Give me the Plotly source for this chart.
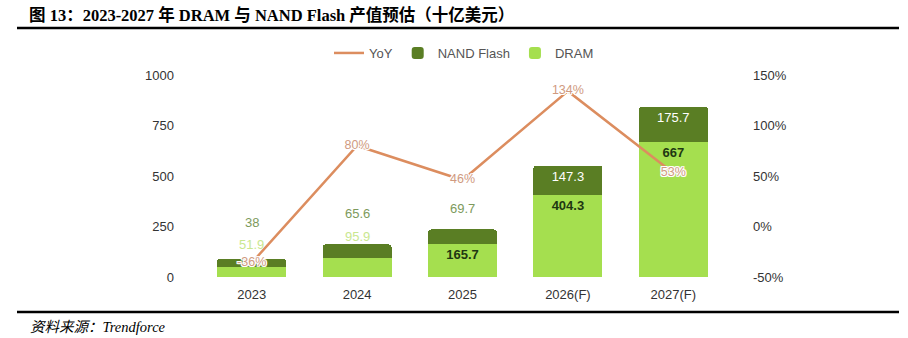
import plotly.graph_objects as go

# Market size forecast, billion USD
years = ["2023", "2024", "2025", "2026(F)", "2027(F)"]
dram = [51.9, 95.9, 165.7, 404.3, 667]
nand = [38, 65.6, 69.7, 147.3, 175.7]
yoy = [-36, 80, 46, 134, 53]  # %

left_ticks = [0, 250, 500, 750, 1000]
right_ticks = [-50, 0, 50, 100, 150]
right_tick_text = ["-50%", "0%", "50%", "100%", "150%"]

W, H = 908, 338
L, R, T, B = 199, 182, 75, 61
PW, PH = W - L - R, H - T - B


def px(x):
    return (x - L) / PW


def py(y):
    return 1 - (y - T) / PH


C_DRAM = "#a5df4f"
C_NAND = "#5a7e24"
C_YOY = "#dc8d5f"
FONT = "Liberation Sans, Arial, sans-serif"
SERIF = "Liberation Serif, Noto Sans CJK SC, serif"
HALO = ("1px 1px 0 #fff, -1px -1px 0 #fff, 1px -1px 0 #fff, -1px 1px 0 #fff, "
        "0 1px 0 #fff, 0 -1px 0 #fff, 1px 0 0 #fff, -1px 0 0 #fff")

# which segments carry their value inside the bar; the rest are labelled above the stack
dram_inside = [False, False, True, True, True]
nand_inside = [False, False, False, True, True]

fig = go.Figure()

fig.add_trace(go.Scatter(
    x=years, y=yoy, name="YoY", yaxis="y2", mode="lines+text", legendrank=1,
    line=dict(color=C_YOY, width=2.5),
    text=[f"{v}%" for v in yoy], textposition="middle center",
    textfont=dict(size=12.5, color="#d09a80", family=FONT, shadow=HALO),
    cliponaxis=False,
))
fig.add_trace(go.Bar(
    x=years, y=dram, name="DRAM", legendrank=3,
    marker=dict(color=C_DRAM, line=dict(width=0)),
    text=[f"<b>{v:g}</b>" if s else "" for v, s in zip(dram, dram_inside)],
    textposition="inside", insidetextanchor="end",
    textfont=dict(size=13, color="#1f3812", family=FONT),
))
fig.add_trace(go.Bar(
    x=years, y=nand, name="NAND Flash", legendrank=2,
    marker=dict(color=C_NAND, line=dict(width=0)),
    text=[f"{v:g}" if s else "" for v, s in zip(nand, nand_inside)],
    textposition="inside", insidetextanchor="end",
    textfont=dict(size=13, color="#ffffff", family=FONT),
))

annotations = []
# labels above the short stacks (pixel offsets from the stack top)
nand_shift = [36, 31, 21]
dram_shift = [14, 8]
for i in range(len(years)):
    total = dram[i] + nand[i]
    if not nand_inside[i]:
        annotations.append(dict(x=i, y=total, xref="x", yref="y", text=f"{nand[i]:g}",
                                showarrow=False, yshift=nand_shift[i], yanchor="middle",
                                font=dict(size=13, color="#7d9a5c", family=FONT)))
    if not dram_inside[i]:
        annotations.append(dict(x=i, y=total, xref="x", yref="y", text=f"{dram[i]:g}",
                                showarrow=False, yshift=dram_shift[i], yanchor="middle",
                                font=dict(size=13, color="#c9e78f", family=FONT)))

annotations.append(dict(
    x=px(27), y=py(15), xref="paper", yref="paper", xanchor="left", yanchor="middle",
    text="<b>图 13：2023-2027 年 DRAM 与 NAND Flash 产值预估（十亿美元）</b>",
    showarrow=False, font=dict(size=16.5, color="#000", family=SERIF),
))
annotations.append(dict(
    x=px(28), y=py(327), xref="paper", yref="paper", xanchor="left", yanchor="middle",
    text="<i>资料来源：Trendforce</i>", showarrow=False,
    font=dict(size=14.5, color="#000", family=SERIF),
))

shapes = [
    dict(type="line", xref="paper", yref="paper", x0=px(17), x1=px(899), y0=py(28), y1=py(28),
         line=dict(color="#000", width=2.5)),
    dict(type="line", xref="paper", yref="paper", x0=px(17), x1=px(899), y0=py(312), y1=py(312),
         line=dict(color="#000", width=2.5)),
]

fig.update_layout(
    width=W, height=H, margin=dict(l=L, r=R, t=T, b=B, autoexpand=False),
    paper_bgcolor="#ffffff", plot_bgcolor="#ffffff",
    barmode="stack", bargap=0.345, barcornerradius=3,
    font=dict(family=FONT, size=13, color="#333"),
    showlegend=True,
    legend=dict(orientation="h", x=px(464), xanchor="center", y=py(53), yanchor="middle",
                font=dict(size=13, color="#555"), traceorder="normal",
                itemwidth=30, bgcolor="rgba(0,0,0,0)"),
    xaxis=dict(type="category", range=[-0.5, 4.5], showline=False, showgrid=False,
               ticks="", tickfont=dict(size=13, color="#333"), ticklabelstandoff=8),
    yaxis=dict(range=[0, 1000], tickvals=left_ticks, showgrid=False, zeroline=False,
               showline=False, ticks="", tickfont=dict(size=13, color="#333"),
               ticklabelstandoff=24),
    yaxis2=dict(range=[-50, 150], tickvals=right_ticks, ticktext=right_tick_text,
                overlaying="y", side="right", showgrid=False, zeroline=False,
                showline=False, ticks="", tickfont=dict(size=13, color="#333"),
                ticklabelstandoff=26),
    annotations=annotations, shapes=shapes,
)

fig.write_html("out.html")
